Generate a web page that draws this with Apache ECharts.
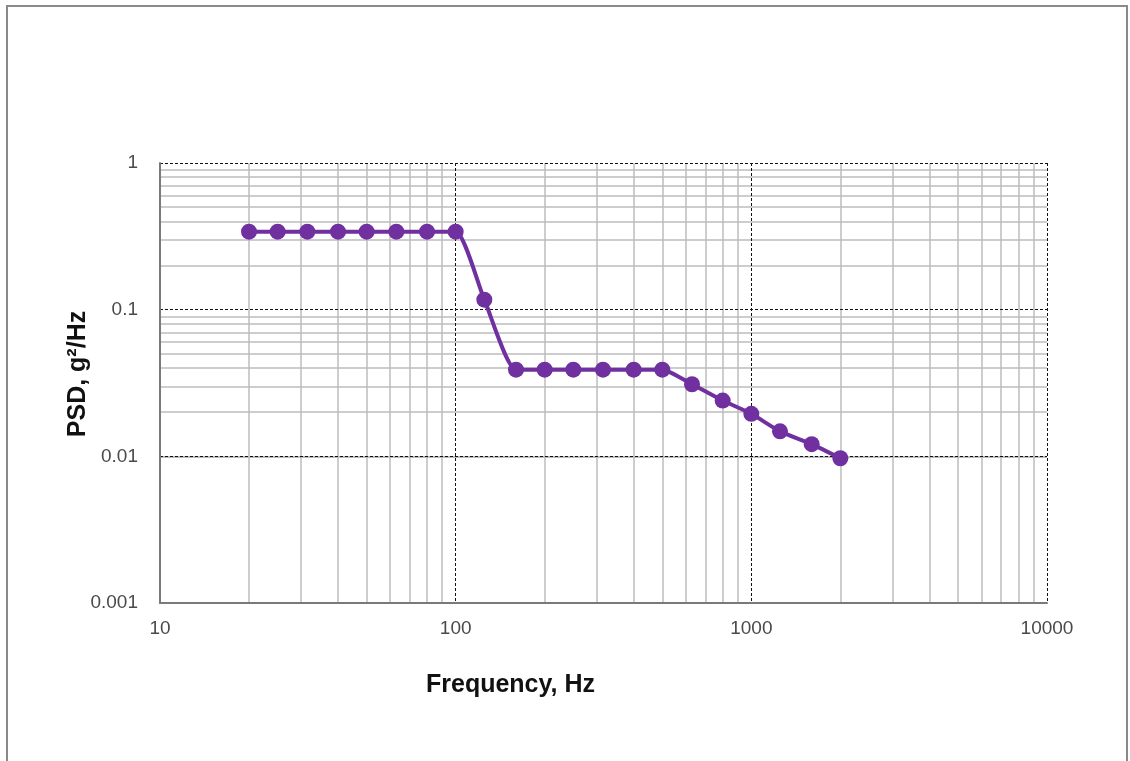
<!DOCTYPE html>
<html><head><meta charset="utf-8">
<script src="https://cdn.jsdelivr.net/npm/echarts@6/dist/echarts.min.js"></script>
<style>html,body{margin:0;padding:0;background:#fff}#c{width:1130px;height:761px}</style>
</head><body><div id="c"></div>
<script>
const freqs = [20,25,31.5,40,50,63,80,100,125,160,200,250,315,400,500,630,800,1000,1250,1600,2000];
const psd = [0.34,0.34,0.34,0.34,0.34,0.34,0.34,0.34,0.117,0.039,0.039,0.039,0.039,0.039,0.039,0.031,0.024,0.0195,0.0148,0.0121,0.0097];
const xTickLabels = {10:'10',100:'100',1000:'1000',10000:'10000'};
const yTickLabels = {1:'1',0.1:'0.1',0.01:'0.01',0.001:'0.001'};
const xMinor = [20,30,40,50,60,70,80,90,200,300,400,500,600,700,800,900,2000,3000,4000,5000,6000,7000,8000,9000];
const yMinor = [0.002,0.003,0.004,0.005,0.006,0.007,0.008,0.009,0.02,0.03,0.04,0.05,0.06,0.07,0.08,0.09,0.2,0.3,0.4,0.5,0.6,0.7,0.8,0.9];

function lbl(map){return function(v){for(const k in map){if(Math.abs(Math.log10(v)-Math.log10(+k))<1e-6)return map[k];}return '';};}

const chart = echarts.init(document.getElementById('c'), null, {renderer:'canvas'});
const minorLines = xMinor.map(v=>({xAxis:v})).concat(yMinor.map(v=>({yAxis:v})));
chart.setOption({
  animation:false,
  backgroundColor:'#fff',
  graphic:[{type:'rect',z:-10,shape:{x:7,y:6,width:1120,height:800},style:{fill:'none',stroke:'#8a8a8a',lineWidth:2},silent:true}],
  grid:{left:160,right:83,top:163,bottom:158,containLabel:false},
  xAxis:{type:'log',logBase:10,min:10,max:10000,z:2,
    name:'Frequency, Hz',nameLocation:'middle',nameGap:70,nameMoveOverlap:false,
    nameTextStyle:{fontFamily:'Liberation Sans',fontWeight:'bold',fontSize:25,color:'#111',padding:[0,186,0,0]},
    axisLine:{show:true,lineStyle:{color:'#7a7a7a',width:2}},
    axisTick:{show:false},
    axisLabel:{formatter:lbl(xTickLabels),fontFamily:'Liberation Sans',fontSize:19,color:'#4a4a4a',margin:16},
    splitLine:{show:true,lineStyle:{color:'#111',type:[3,2],width:1}},
    minorTick:{show:false},minorSplitLine:{show:false}},
  yAxis:{type:'log',logBase:10,min:0.001,max:1,z:2,
    name:'PSD, g²/Hz',nameLocation:'middle',nameGap:69,nameRotate:90,nameMoveOverlap:false,
    nameTextStyle:{fontFamily:'Liberation Sans',fontWeight:'bold',fontSize:25,color:'#111',padding:[0,0,0,18]},
    axisLine:{show:true,lineStyle:{color:'#7a7a7a',width:2}},
    axisTick:{show:false},
    axisLabel:{formatter:lbl(yTickLabels),fontFamily:'Liberation Sans',fontSize:19,color:'#4a4a4a',margin:22},
    splitLine:{show:true,lineStyle:{color:'#111',type:[3,2],width:1}}},
  series:[
    {type:'line',data:[],z:0,zlevel:0,silent:true,
      markLine:{silent:true,z:0,symbol:['none','none'],label:{show:false},animation:false,
        emphasis:{disabled:true},
        lineStyle:{color:'#bdbdbd',type:'solid',width:1.5},data:minorLines}},
    {type:'line',z:5,data:freqs.map((f,i)=>[f,psd[i]]),smooth:0.2,
      symbol:'circle',symbolSize:16,
      lineStyle:{color:'#7030A0',width:4},
      itemStyle:{color:'#7030A0'}}
  ]
});
</script></body></html>
